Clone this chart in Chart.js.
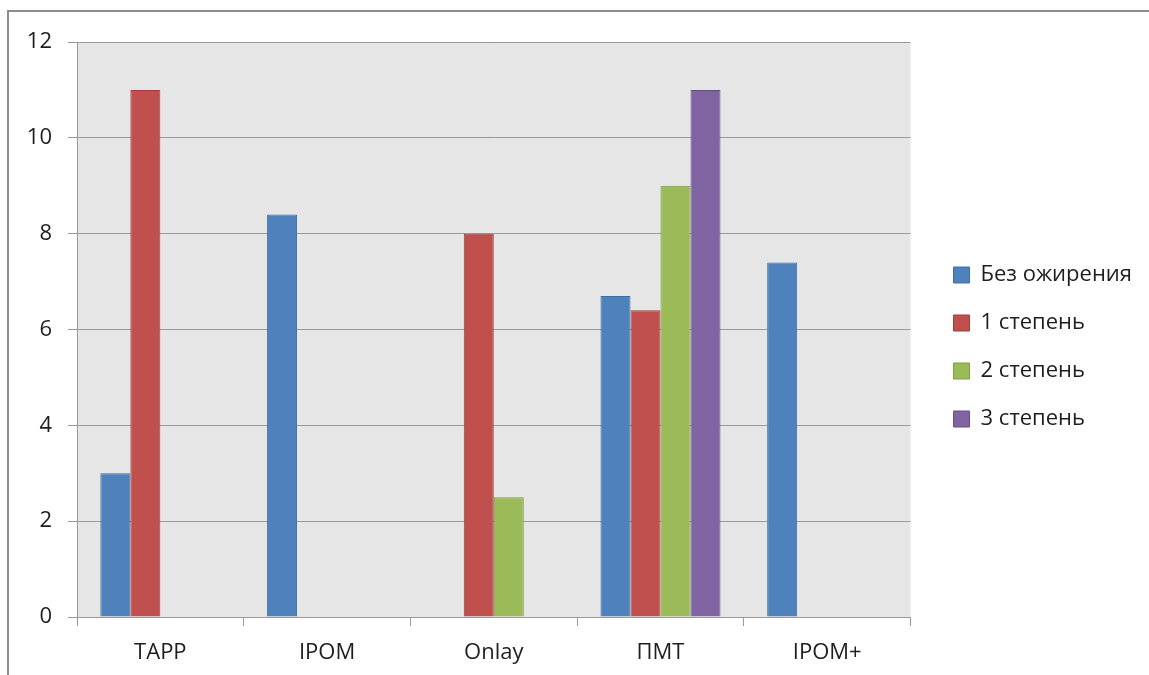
<!DOCTYPE html>
<html lang="ru">
<head>
    <meta charset="UTF-8">
    <title>Осложнения по методикам</title>
    <script src="https://cdn.jsdelivr.net/npm/chart.js"></script>
    <style>
        html, body { margin: 0; padding: 0; background: #fff; overflow: hidden; }
        #frame {
            position: absolute; left: 7px; top: 10px; width: 1300px; height: 800px;
            border-top: 2px solid #8c8c8c; border-left: 2px solid #8c8c8c;
        }
        #wrap { position: absolute; left: 0; top: 0; width: 1149px; height: 675px; }
    </style>
</head>
<body>
    <div id="frame"></div>
    <div id="wrap"><canvas id="barChart" width="1149" height="675"></canvas></div>

    <script>
        const methods = ['TAPP', 'IPOM', 'Onlay', 'ПМТ', 'IPOM+'];
        const noObesity = [3, 8.4, null, 6.7, 7.4];
        const grade1 = [11, null, 8, 6.4, null];
        const grade2 = [null, null, 2.5, 9, null];
        const grade3 = [null, null, null, 11, null];
        const yTicks = [0, 2, 4, 6, 8, 10, 12];

        const font = { family: '"Open Sans", "DejaVu Sans", sans-serif', size: 22 };

        // grey fill behind the plot area
        const plotBackground = {
            id: 'plotBackground',
            beforeDraw(chart) {
                const { ctx, chartArea: a } = chart;
                ctx.save();
                ctx.fillStyle = '#e6e6e6';
                ctx.fillRect(a.left, a.top, a.right - a.left, a.bottom - a.top);
                ctx.restore();
            }
        };

        // centre the legend block a little higher than the full-height box would
        const legendLift = {
            id: 'legendLift',
            afterLayout(chart) {
                chart.legend.bottom -= 23;
            }
        };

        function series(label, data, fill, edge) {
            return {
                label: label,
                data: data,
                backgroundColor: fill,
                borderColor: edge,
                borderWidth: 1,
                borderSkipped: 'bottom'
            };
        }

        function draw() {
            Chart.defaults.font = font;
            Chart.defaults.color = '#1e1e1e';

            new Chart(document.getElementById('barChart'), {
                type: 'bar',
                data: {
                    labels: methods,
                    datasets: [
                        series('Без ожирения', noObesity, '#4f81bd', '#3f6ea5'),
                        series('1 степень', grade1, '#c0504d', '#9c3e3b'),
                        series('2 степень', grade2, '#9bbb59', '#7f9c45'),
                        series('3 степень', grade3, '#8064a2', '#654e85')
                    ]
                },
                options: {
                    responsive: false,
                    animation: false,
                    layout: { padding: { left: 0, top: 42, right: 7, bottom: 0 } },
                    datasets: { bar: { categoryPercentage: 0.72, barPercentage: 1 } },
                    plugins: {
                        tooltip: { enabled: false },
                        legend: {
                            position: 'right',
                            maxWidth: 320,
                            labels: { boxWidth: 16, boxHeight: 16, padding: 26, font: font, color: '#1e1e1e' }
                        }
                    },
                    scales: {
                        x: {
                            grid: { display: true, drawOnChartArea: false, tickLength: 9, color: '#9a9a9a' },
                            border: { color: '#9a9a9a' },
                            ticks: { padding: 14, font: font, color: '#1e1e1e' },
                            afterFit: s => { s.height = 58; }
                        },
                        y: {
                            min: 0,
                            max: 12,
                            afterBuildTicks: s => { s.ticks = yTicks.map(v => ({ value: v })); },
                            grid: { color: '#9a9a9a', tickLength: 9 },
                            border: { color: '#9a9a9a' },
                            ticks: { padding: 16, font: font, color: '#1e1e1e' },
                            afterFit: s => { s.width = 77; }
                        },
                        gap: {
                            type: 'linear',
                            position: 'right',
                            grid: { display: false },
                            border: { display: false },
                            ticks: { display: false },
                            afterFit: s => { s.width = 17; }
                        }
                    }
                },
                plugins: [plotBackground, legendLift]
            });
        }

        document.fonts.load('22px "Open Sans"', 'Без ожирения TAPP 0123').then(draw, draw);
    </script>
</body>
</html>
